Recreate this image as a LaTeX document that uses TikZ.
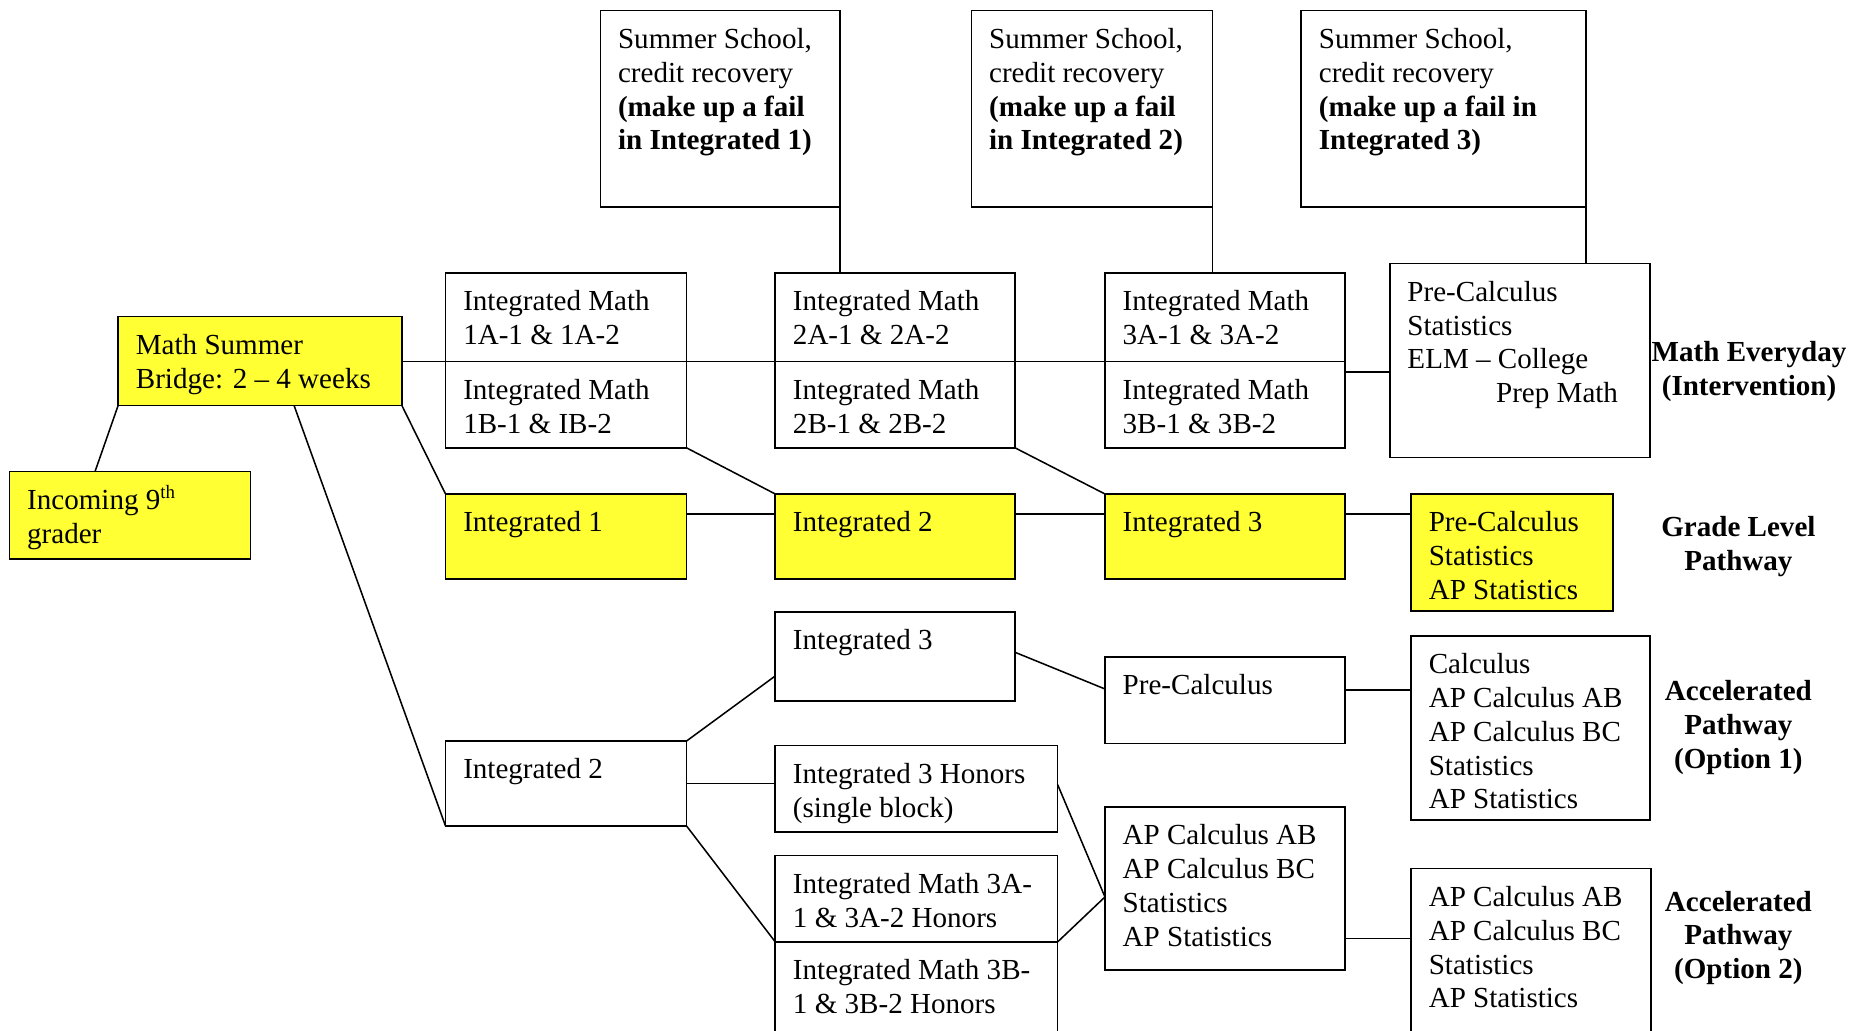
\documentclass[tikz,border=0pt]{standalone}
\usepackage{fontspec}
\setmainfont{Liberation Serif}
\usetikzlibrary{calc}
\definecolor{yel}{RGB}{255,255,51}
\newcommand\mkbox[7]{%
  \pgfmathsetmacro\bxw{(#4-#2)*0.5-15}%
  \pgfmathsetmacro\bxd{(#5-#3)*0.5-16}%
  \node[boxbase,#6,text depth=\bxd pt] (#1) at (#2,#3)
    {\makebox[\bxw pt][l]{\begin{tabular}[t]{@{}l@{}}#7\end{tabular}}};}
\tikzset{
  boxbase/.style={draw, line width=0.65pt, anchor=north west, inner xsep=7.5pt,
    inner ysep=0pt, outer sep=0pt, text height=16pt,
    font=\fontsize{12.3}{14.3}\selectfont},
  plain/.style={fill=white},
  yl/.style={fill=yel},
  conn/.style={line width=0.65pt},
  lab/.style={anchor=base, inner sep=0pt, font=\fontsize{12.3}{14.3}\selectfont\bfseries}
}
\begin{document}
\begin{tikzpicture}[x=0.5pt,y=-0.5pt]
\fill[white] (0,0) rectangle (1568,872.4);
\useasboundingbox (0,0) rectangle (1568,872.4);
% summer school boxes
\mkbox{ss1}{508}{9}{711}{175}{plain}{Summer School,\\credit recovery\\\textbf{(make up a fail}\\\textbf{in Integrated 1)}}
\mkbox{ss2}{822}{9}{1026}{175}{plain}{Summer School,\\credit recovery\\\textbf{(make up a fail}\\\textbf{in Integrated 2)}}
\mkbox{ss3}{1101}{9}{1342}{175}{plain}{Summer School,\\credit recovery\\\textbf{(make up a fail in}\\\textbf{Integrated 3)}}
% left
\mkbox{msb}{100}{268}{340}{343}{yl}{Math Summer\\Bridge: 2 – 4 weeks}
\mkbox{inc}{8}{399}{212}{473}{yl}{Incoming 9{\fontsize{8}{9}\selectfont\raisebox{4.5pt}{th}}\\grader}
% intervention row
\mkbox{im1a}{377}{231}{581}{306}{plain}{Integrated Math\\1A-1 \& 1A-2}
\mkbox{im1b}{377}{306}{581}{379}{plain}{Integrated Math\\1B-1 \& IB-2}
\mkbox{im2a}{656}{231}{859}{306}{plain}{Integrated Math\\2A-1 \& 2A-2}
\mkbox{im2b}{656}{306}{859}{379}{plain}{Integrated Math\\2B-1 \& 2B-2}
\mkbox{im3a}{935}{231}{1138}{306}{plain}{Integrated Math\\3A-1 \& 3A-2}
\mkbox{im3b}{935}{306}{1138}{379}{plain}{Integrated Math\\3B-1 \& 3B-2}
\mkbox{pce}{1176}{223}{1396}{387}{plain}{Pre-Calculus\\Statistics\\ELM – College\\\hspace*{37.5pt}Prep Math}
% grade level row
\mkbox{int1}{377}{418}{581}{490}{yl}{Integrated 1}
\mkbox{int2}{656}{418}{859}{490}{yl}{Integrated 2}
\mkbox{int3}{935}{418}{1138}{490}{yl}{Integrated 3}
\mkbox{pcy}{1194}{418}{1365}{517}{yl}{Pre-Calculus\\Statistics\\AP Statistics}
% accelerated
\mkbox{aint2}{377}{627}{581}{699}{plain}{Integrated 2}
\mkbox{aint3}{656}{518}{859}{593}{plain}{Integrated 3}
\mkbox{hon}{656}{631}{895}{704}{plain}{Integrated 3 Honors\\(single block)}
\mkbox{hon3a}{656}{724}{895}{797}{plain}{Integrated Math 3A-\\1 \& 3A-2 Honors}
\mkbox{hon3b}{656}{797}{895}{873.5}{plain}{Integrated Math 3B-\\1 \& 3B-2 Honors}
\mkbox{apc}{935}{556}{1138}{629}{plain}{Pre-Calculus}
\mkbox{apab}{935}{683}{1138}{821}{plain}{AP Calculus AB\\AP Calculus BC\\Statistics\\AP Statistics}
\mkbox{calc}{1194}{538}{1396}{694}{plain}{Calculus\\AP Calculus AB\\AP Calculus BC\\Statistics\\AP Statistics}
\mkbox{opt2}{1194}{735}{1397}{873.5}{plain}{AP Calculus AB\\AP Calculus BC\\Statistics\\AP Statistics}
% labels
\node[lab] (lme) at (1480,306) {\begin{tabular}[t]{@{}c@{}}Math Everyday\\(Intervention)\end{tabular}};
\node[lab] (lgl) at (1471,454) {\begin{tabular}[t]{@{}c@{}}Grade Level\\Pathway\end{tabular}};
\node[lab] (lo1) at (1471,593) {\begin{tabular}[t]{@{}c@{}}Accelerated\\Pathway\\(Option 1)\end{tabular}};
\node[lab] (lo2) at (1471,771) {\begin{tabular}[t]{@{}c@{}}Accelerated\\Pathway\\(Option 2)\end{tabular}};
% connectors
\draw[conn] ($(inc.north west)!0.355!(inc.north east)$) -- (msb.south west);
\draw[conn] (msb.east |- im1a.south) -- (im1a.south west);
\draw[conn] (im1a.south east) -- (im2a.south west);
\draw[conn] (im2a.south east) -- (im3a.south west);
\coordinate (c4) at ($(im3b.north east)+(0,9)$);
\draw[conn] (c4) -- (c4 -| pce.west);
\draw[conn] (ss1.south east) -- (ss1.south east |- im2a.north);
\draw[conn] (ss2.south east) -- (ss2.south east |- im3a.north);
\draw[conn] (ss3.south east) -- (ss3.south east |- pce.north);
\draw[conn] (msb.south east) -- (int1.north west);
\draw[conn] (im1b.south east) -- (int2.north west);
\draw[conn] (im2b.south east) -- (int3.north west);
\coordinate (g1) at ($(int1.north east)+(0,17)$);
\coordinate (g2) at ($(int2.north east)+(0,17)$);
\coordinate (g3) at ($(int3.north east)+(0,17)$);
\draw[conn] (g1) -- (g1 -| int2.west);
\draw[conn] (g2) -- (g2 -| int3.west);
\draw[conn] (g3) -- (g3 -| pcy.west);
\draw[conn] ($(msb.south west)!0.62!(msb.south east)$) -- (aint2.south west);
\draw[conn] (aint2.north east) -- ($(aint3.south west)+(0,-21)$);
\draw[conn] (aint2.east) -- (aint2.east -| hon.west);
\draw[conn] (aint2.south east) -- (hon3a.south west);
\draw[conn] ($(aint3.north east)+(0,34)$) -- ($(apc.north west)+(0,27)$);
\coordinate (c14) at ($(apc.north east)+(0,28)$);
\draw[conn] (c14) -- (c14 -| calc.west);
\coordinate (c15) at ($(apab.north west)+(0,76)$);
\draw[conn] ($(hon.north east)+(0,33)$) -- (c15) -- (hon3a.south east);
\coordinate (c17) at ($(apab.north east)+(0,111)$);
\draw[conn] (c17) -- (c17 -| opt2.west);
\end{tikzpicture}
\end{document}
